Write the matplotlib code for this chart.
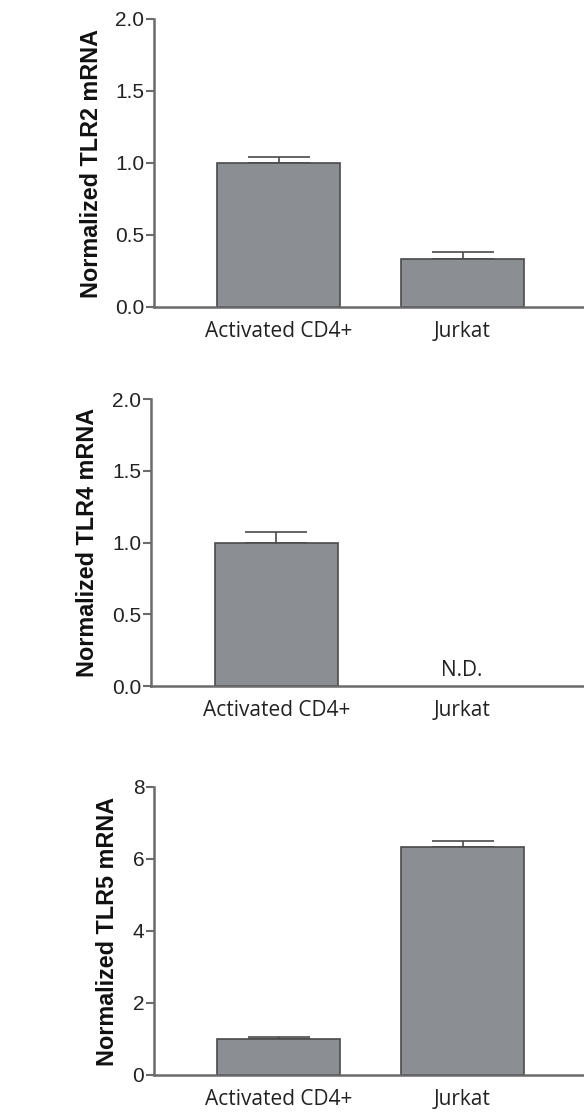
import matplotlib
matplotlib.use("Agg")
import matplotlib.pyplot as plt

W, H = 584, 1115

categories = ["Activated CD4+", "Jurkat"]
tlr2_values = [1.0, 0.335]
tlr2_errors = [0.045, 0.05]
tlr4_values = [1.0, 0.0]
tlr4_errors = [0.075, 0.0]
tlr5_values = [1.0, 6.32]
tlr5_errors = [0.05, 0.18]

ylabels = ["Normalized TLR2 mRNA", "Normalized TLR4 mRNA", "Normalized TLR5 mRNA"]
ylims = [2.0, 2.0, 8.0]
yticks = [[0.0, 0.5, 1.0, 1.5, 2.0], [0.0, 0.5, 1.0, 1.5, 2.0], [0, 2, 4, 6, 8]]
ytick_fmt = ["{:.1f}", "{:.1f}", "{:.0f}"]

BAR_COLOR = "#8b8e93"
EDGE_COLOR = "#4a4a4a"
AXIS_COLOR = "#6a6a6a"
TEXT_COLOR = "#222222"

# pixel boxes for each panel: left, top, bottom (right runs to the edge)
panels = [(154, 19, 307), (151, 399, 686), (154, 787, 1075)]
ylabel_x = [92, 87, 108]

fig = plt.figure(figsize=(W / 100, H / 100), dpi=100)
fig.patch.set_facecolor("white")

data = [(tlr2_values, tlr2_errors), (tlr4_values, tlr4_errors), (tlr5_values, tlr5_errors)]

for i, (left, top, bottom) in enumerate(panels):
  ax = fig.add_axes([left / W, 1 - bottom / H, (W - left) / W, (bottom - top) / H])
  vals, errs = data[i]
  x = [0, 1]
  for xi, v, e in zip(x, vals, errs):
    if v > 0:
      ax.bar(xi, v, width=0.668, color=BAR_COLOR, edgecolor=EDGE_COLOR, linewidth=1.2, zorder=2)
      ax.errorbar(xi, v, yerr=[[0], [e]], color=EDGE_COLOR, elinewidth=1.2,
                  capsize=31 * 0.72, capthick=1.2, zorder=1)
  if i == 1:
    ax.text(1, 0.035, "N.D.", ha="center", va="bottom", fontsize=15,
            family="Open Sans", color=TEXT_COLOR)

  ax.set_xlim(-0.677, 1.66)
  ax.set_ylim(0, ylims[i])
  ax.set_yticks(yticks[i])
  ax.set_yticklabels([ytick_fmt[i].format(t) for t in yticks[i]],
                     family="Liberation Sans", fontsize=15, color=TEXT_COLOR)
  ax.set_xticks(x)
  ax.set_xticklabels(categories, family="Open Sans", fontsize=15, color=TEXT_COLOR)
  ax.tick_params(axis="x", length=0, pad=10)
  ax.tick_params(axis="y", length=6, width=1.5, color=AXIS_COLOR, pad=1)
  for s in ["top", "right"]:
    ax.spines[s].set_visible(False)
  for s in ["left", "bottom"]:
    ax.spines[s].set_color(AXIS_COLOR)
    ax.spines[s].set_linewidth(1.8)
  ax.patch.set_alpha(0)

  fig.text(ylabel_x[i] / W, 1 - (top + bottom) / 2 / H, ylabels[i], rotation=90,
           ha="center", va="center", fontsize=16.8, fontweight="bold",
           family="Liberation Sans", color="#111111")

fig.savefig("out.png", dpi=100)
